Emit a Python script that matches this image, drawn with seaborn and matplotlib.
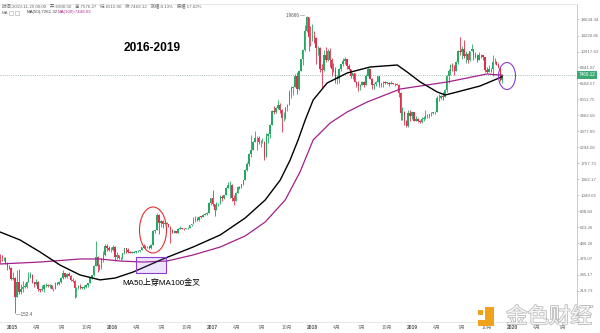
import numpy as np
import pandas as pd
import matplotlib
matplotlib.use('Agg')
import matplotlib.pyplot as plt
import matplotlib.ticker as mticker
import matplotlib.patheffects as pe
from matplotlib.patches import Ellipse, Rectangle
import seaborn as sns

# ---------------- data (weekly BTC/USD candles) ----------------
first_open = 388
close_2014 = [376, 375, 375, 348, 330, 318, 265]
high_2014 = [400, 395, 385, 380, 350, 335, 322]
low_2014 = [345, 360, 360, 340, 310, 312, 262]

close_2015 = [270, 200, 255, 215, 225, 235, 235, 255, 275, 285, 255, 245, 255, 225, 222, 225, 240, 240, 237, 240,
              225, 225, 248, 245, 255, 270, 292, 275, 290, 280, 262, 260, 230, 230, 238, 232, 232, 233, 240, 248,
              270, 283, 330, 385, 330, 325, 370, 395, 455, 440, 425, 430]
high_2015 = [300, 275, 310, 315, 245, 260, 250, 260, 300, 300, 290, 255, 265, 260, 228, 240, 245, 248, 245, 245,
             242, 230, 252, 255, 258, 275, 310, 295, 292, 300, 285, 270, 262, 235, 240, 245, 235, 240, 245, 250,
             275, 285, 335, 500, 390, 340, 375, 420, 470, 470, 460, 450]
low_2015 = [264, 152.4, 200, 210, 210, 215, 230, 230, 255, 270, 250, 235, 240, 220, 215, 218, 215, 233, 235, 230,
            225, 220, 225, 240, 240, 250, 265, 270, 270, 280, 260, 255, 195, 200, 225, 225, 225, 225, 232, 235,
            248, 265, 280, 330, 300, 310, 315, 355, 390, 420, 420, 415]

close_2016 = [450, 385, 395, 375, 375, 405, 440, 430, 415, 410, 410, 415, 420, 420, 428, 450, 445, 458, 455, 440,
              465, 580, 590, 760, 670, 690, 655, 665, 655, 625, 590, 570, 580, 570, 605, 608, 605, 602, 610, 617,
              640, 655, 700, 705, 700, 740, 735, 765, 775, 790, 925, 998]
high_2016 = [465, 455, 415, 398, 385, 410, 445, 445, 440, 420, 420, 420, 422, 425, 430, 450, 470, 465, 460, 458,
             470, 590, 595, 780, 770, 705, 700, 680, 680, 660, 630, 600, 590, 585, 610, 630, 612, 610, 615, 620,
             645, 660, 740, 745, 740, 750, 745, 775, 780, 800, 935, 1000]
low_2016 = [420, 360, 370, 370, 365, 370, 400, 405, 410, 405, 405, 408, 410, 415, 415, 425, 440, 440, 445, 435,
            435, 465, 570, 590, 560, 620, 610, 650, 650, 620, 480, 565, 565, 565, 565, 600, 600, 590, 600, 605,
            610, 630, 650, 680, 690, 690, 720, 730, 755, 765, 790, 890]

close_2017 = [905, 820, 920, 920, 1015, 995, 1050, 1185, 1230, 1230, 1000, 960, 1090, 1200, 1180, 1250, 1340, 1590,
              1750, 2050, 2200, 2520, 2650, 2650, 2480, 2500, 2520, 1950, 2760, 2860, 3300, 4150, 4080, 4350, 4550,
              4200, 3700, 3700, 4400, 4600, 5700, 6000, 6150, 7400, 5900, 8000, 9650, 11300, 15300, 19100, 13900, 13800]
high_2017 = [1150, 910, 935, 930, 1050, 1060, 1060, 1200, 1300, 1330, 1250, 1060, 1100, 1210, 1210, 1260, 1350, 1600,
             1800, 2100, 2800, 2550, 3000, 2750, 2770, 2600, 2650, 2550, 2900, 2900, 3350, 4200, 4500, 4400, 4950,
             4700, 4300, 4100, 4450, 4620, 5850, 6200, 6200, 7600, 7900, 8100, 9700, 11400, 17000, 19666, 19200, 16500]
low_2017 = [880, 750, 820, 885, 915, 950, 990, 1050, 1180, 1000, 950, 890, 950, 1080, 1160, 1180, 1240, 1340,
            1550, 1700, 1950, 2200, 2500, 2200, 2400, 2300, 2450, 1850, 1950, 2450, 2650, 3300, 3950, 3990, 4300,
            4000, 2950, 3500, 3650, 4150, 4600, 5100, 5400, 6100, 5500, 5850, 7950, 8800, 11000, 15000, 11000, 12000]

close_2018 = [14200, 13600, 11600, 11700, 8200, 8100, 10400, 9600, 11000, 9550, 8200, 8150, 7000, 7000, 8300, 8900,
              9400, 9650, 8700, 8200, 7350, 7700, 6700, 6450, 6200, 6380, 6700, 6350, 7400, 8200, 7050, 6300, 6400,
              6700, 7300, 6300, 6500, 6700, 6600, 6600, 6450, 6500, 6450, 6400, 6350, 5600, 4000, 4100, 3500, 3250,
              4000, 3850]
high_2018 = [17200, 15400, 14000, 12000, 11800, 9000, 11300, 11800, 11500, 11700, 9900, 9100, 8500, 7500, 8400, 9000,
             9800, 9950, 9700, 8900, 8300, 7750, 7750, 6800, 6800, 6400, 6800, 6750, 7600, 8500, 8250, 7150, 6600,
             6800, 7350, 7400, 6600, 6800, 6800, 6700, 6700, 6800, 6550, 6500, 6550, 6400, 5650, 4400, 4150, 3600,
             4200, 4250]
low_2018 = [13000, 12500, 9000, 10300, 7900, 6000, 8000, 9300, 9400, 8500, 7300, 7800, 6500, 6450, 6600, 8000,
            8700, 9000, 8300, 8100, 7100, 7050, 6650, 6100, 5750, 5800, 6300, 6100, 6300, 7400, 6950, 5900, 5900,
            6250, 6650, 6100, 6150, 6100, 6400, 6450, 6200, 6400, 6400, 6250, 6300, 5200, 3600, 3600, 3300, 3200,
            3200, 3550]

close_2019 = [4050, 3550, 3650, 3550, 3450, 3650, 3700, 3850, 3850, 3950, 4000, 4050, 4100, 5100, 5100, 5300, 5200,
              5850, 7300, 8000, 8750, 8600, 7950, 9300, 11000, 10800, 11500, 10200, 10600, 9500, 11000, 11400, 10300,
              10150, 9600, 10400, 10300, 10000, 8050, 7850, 8300, 8200, 9200, 9300, 8800, 8500, 6900, 7469.12]
high_2019 = [4100, 4100, 3800, 3700, 3600, 3750, 3800, 4200, 3950, 3950, 4050, 4100, 4150, 5300, 5450, 5400, 5650,
             5900, 7500, 8300, 8900, 9100, 8800, 9400, 11200, 13800, 12000, 13200, 11100, 10700, 11100, 12300, 11500,
             10950, 10600, 10900, 10500, 10300, 10050, 8500, 8800, 8400, 10400, 9800, 9400, 9100, 8500, 7576.27]
low_2019 = [3650, 3500, 3550, 3450, 3400, 3400, 3550, 3650, 3700, 3700, 3850, 3950, 3950, 4100, 4900, 5050, 5000,
            5200, 5700, 6600, 7500, 8000, 7450, 7950, 8950, 10300, 9700, 9900, 9100, 9100, 9400, 11000, 9500,
            9800, 9300, 9600, 9900, 9600, 7800, 7700, 7800, 7900, 7300, 9000, 8750, 8350, 6800, 6515]

# moving averages
ma50_dates = ['2014-11-18', '2015-01-30', '2015-04-13', '2015-06-25', '2015-09-06', '2015-11-18', '2016-01-12',
              '2016-03-18', '2016-07-05', '2016-10-23', '2017-01-30', '2017-05-01', '2017-07-13', '2017-09-06',
              '2017-10-12', '2017-11-10', '2017-12-06', '2018-01-04', '2018-02-24', '2018-05-08', '2018-07-31',
              '2018-11-07', '2018-12-13', '2019-01-30', '2019-04-02', '2019-05-01', '2019-06-13', '2019-09-05',
              '2019-11-25']
ma50 = [575, 505, 415, 335, 285, 263, 271, 299, 370, 450, 548, 723, 970, 1344, 1863, 2583, 3581, 4964, 6552,
        7715, 8510, 8790, 7843, 6660, 5656, 5386, 5656, 6240, 7261.32]

ma100_dates = ['2014-11-18', '2015-04-13', '2015-09-06', '2015-11-18', '2016-01-30', '2016-04-23', '2016-07-20',
               '2016-10-23', '2017-01-30', '2017-05-01', '2017-07-13', '2017-09-24', '2017-11-17', '2018-01-04',
               '2018-03-07', '2018-05-08', '2018-07-20', '2018-10-12', '2018-11-18', '2019-01-30', '2019-05-08',
               '2019-07-20', '2019-09-30', '2019-11-25']
ma100 = [341, 352, 370, 370, 358, 352, 358, 395, 450, 539, 677, 970, 1532, 2583, 3410, 4081, 4804, 5566, 5940,
         6240, 6660, 7110, 7590, 7448.03]

y_tick_labels = ['18634.34', '14220.85', '10917.63', '8441.87', '6504.57', '5011.75', '3862.58', '2977.09',
                 '2294.06', '1767.73', '1362.17', '1049.65', '808.83', '623.26', '480.26', '370.07', '285.17',
                 '219.73', '169.32']
x_tick_dates = ['2015-01-01', '2015-04-01', '2015-07-01', '2015-10-01', '2016-01-01', '2016-04-01', '2016-07-01',
                '2016-10-01', '2017-01-01', '2017-04-01', '2017-07-01', '2017-10-01', '2018-01-01', '2018-04-01',
                '2018-07-01', '2018-10-01', '2019-01-01', '2019-04-01', '2019-07-01', '2019-10-01', '2020-01-01',
                '2020-04-01', '2020-07-01']
x_tick_labels = ['2015', '4月', '7月', '10月', '2016', '4月', '7月', '10月', '2017', '4月', '7月', '10月',
                 '2018', '4月', '7月', '10月', '2019', '4月', '7月', '10月', '2020', '4月', '7月']

# ---------------- assemble ----------------
closes = np.array(close_2014 + close_2015 + close_2016 + close_2017 + close_2018 + close_2019, dtype=float)
highs = np.array(high_2014 + high_2015 + high_2016 + high_2017 + high_2018 + high_2019, dtype=float)
lows = np.array(low_2014 + low_2015 + low_2016 + low_2017 + low_2018 + low_2019, dtype=float)
opens = np.concatenate([[first_open], closes[:-1]])
dates = pd.date_range('2014-11-17', periods=len(closes), freq='W-MON')

sns.set_theme(style='white')
plt.rcParams['font.family'] = ['Liberation Sans', 'Noto Sans CJK SC', 'DejaVu Sans']
plt.rcParams['axes.unicode_minus'] = False

W, H = 600, 333
fig = plt.figure(figsize=(W / 100, H / 100), dpi=100)
fig.patch.set_facecolor('white')
ax = fig.add_axes([0, (H - 322) / H, 577 / W, (322 - 4) / H])
ax.set_facecolor('white')
ax.set_yscale('log')

up, down = '#26a862', '#df2f4c'
cols = [up if c >= o else down for o, c in zip(opens, closes)]
ax.vlines(dates, lows, highs, colors=cols, lw=0.6, zorder=2)
bottoms = np.minimum(opens, closes)
heights = np.maximum(np.abs(closes - opens), bottoms * 0.008)
ax.bar(dates, heights, bottom=bottoms, width=5.4, color=cols, linewidth=0, zorder=3)

df50 = pd.DataFrame({'date': pd.to_datetime(ma50_dates), 'v': ma50})
df100 = pd.DataFrame({'date': pd.to_datetime(ma100_dates), 'v': ma100})
sns.lineplot(data=df100, x='date', y='v', ax=ax, color='#a3208c', lw=0.9, zorder=4)
sns.lineplot(data=df50, x='date', y='v', ax=ax, color='black', lw=1.0, zorder=5)

ax.axhline(closes[-1], color='#86a898', lw=0.6, ls=(0, (1, 1.6)), zorder=1)

ax.set_xlim(pd.Timestamp('2014-11-18'), pd.Timestamp('2020-08-24'))
ax.set_ylim(132.2, 23808)
ax.set_xlabel('')
ax.set_ylabel('')

# y axis on the right
ax.yaxis.tick_right()
ax.yaxis.set_minor_locator(mticker.NullLocator())
ax.yaxis.set_minor_formatter(mticker.NullFormatter())
ax.set_yticks([float(v) for v in y_tick_labels])
ax.set_yticklabels(y_tick_labels)
ax.tick_params(axis='y', which='major', length=1.5, width=0.5, color='#b5b5b5', labelsize=3.2,
               labelcolor='#707070', pad=0.8, right=True, left=False)

ax.set_xticks(pd.to_datetime(x_tick_dates))
ax.set_xticklabels(x_tick_labels)
ax.tick_params(axis='x', length=0, labelsize=3.6, labelcolor='#707070', pad=2.2)
for t, lab in zip(ax.get_xticklabels(), x_tick_labels):
    if not lab.endswith('月'):
        t.set_fontweight('bold')
        t.set_color('#555555')

ax.spines['left'].set_visible(False)
ax.spines['right'].set_color('#c4c4c4')
ax.spines['right'].set_linewidth(0.6)
ax.spines['top'].set_color('#e4e4e4')
ax.spines['top'].set_linewidth(0.6)
ax.spines['bottom'].set_color('#e4e4e4')
ax.spines['bottom'].set_linewidth(0.6)
ax.grid(False)

# current price label
ax.annotate(f'{closes[-1]:.2f}', xy=(1, closes[-1]), xycoords=('axes fraction', 'data'),
            xytext=(1.0, 0), textcoords='offset points', ha='left', va='center', fontsize=3.3,
            color='white', bbox=dict(boxstyle='square,pad=0.35', fc='#3aaa72', ec='none'),
            annotation_clip=False, zorder=10)

# high / low labels
i_hi = int(np.argmax(highs))
i_lo = int(np.argmin(lows))
ax.annotate(f'{highs[i_hi]:.0f} —', xy=(dates[i_hi], highs[i_hi]), xytext=(-1.5, 0), textcoords='offset points',
            ha='right', va='center', fontsize=3.3, color='#555555')
ax.annotate(f'—{lows[i_lo]:g}', xy=(dates[i_lo], lows[i_lo]), xytext=(0.5, -1), textcoords='offset points',
            ha='left', va='center', fontsize=3.3, color='#555555')

# ---------------- annotations (figure pixels) ----------------
def fx(px):
    return px / W


def fy(py):
    return 1 - py / H


fig.text(fx(152), fy(48), '2016-2019', ha='center', va='center', fontsize=8.6, fontweight='bold',
         family=['Liberation Sans', 'DejaVu Sans'], color='black')
fig.text(fx(161), fy(283), 'MA50上穿MA100金叉', ha='center', va='center', fontsize=5.8,
         family=['Liberation Sans', 'Noto Sans CJK SC'], color='black')

fig.add_artist(Ellipse((fx(153), fy(230)), 27 / W, 46 / H, transform=fig.transFigure, fill=False,
                       ec='#e0312f', lw=0.8))
fig.add_artist(Rectangle((fx(136), fy(273)), 30 / W, 16 / H, transform=fig.transFigure,
                         fc=(0.62, 0.45, 0.95, 0.18), ec='#8a3fd1', lw=0.8))
fig.add_artist(Ellipse((fx(507), fy(76)), 17 / W, 27 / H, transform=fig.transFigure, fill=False,
                       ec='#8a3fd1', lw=0.8))

# header lines
hdr_font = ['Liberation Sans', 'Noto Sans CJK SC']
fig.text(fx(2), fy(6), '时间:2019-11-25 00:00   开:6900.50   高:7576.27   低:6515.00   收:7469.12   涨幅:8.13%   振幅:17.62%',
         ha='left', va='center', fontsize=3.2, color='#666666', family=hdr_font)
fig.text(fx(2), fy(12.5), 'MA', ha='left', va='center', fontsize=3.2, color='#666666', family=hdr_font)
fig.add_artist(Rectangle((fx(9), fy(14.5)), 4 / W, 4 / H, transform=fig.transFigure, fill=False, ec='#aaaaaa', lw=0.4))
fig.add_artist(Rectangle((fx(15), fy(14.5)), 4 / W, 4 / H, transform=fig.transFigure, fill=False, ec='#aaaaaa', lw=0.4))
fig.text(fx(27), fy(12.5), f'MA(50):{ma50[-1]:.2f}', ha='left', va='center', fontsize=3.2, color='#444444',
         family=hdr_font)
fig.text(fx(58), fy(12.5), f'MA(100):{ma100[-1]:.2f}', ha='left', va='center', fontsize=3.2, color='#b0308f',
         family=hdr_font)

# watermark
orange = '#f0a21c'
fig.add_artist(Rectangle((fx(485), fy(326)), 9 / W, 19 / H, transform=fig.transFigure, fc=orange, ec='none'))
fig.add_artist(Rectangle((fx(478), fy(326)), 16 / W, 6 / H, transform=fig.transFigure, fc=orange, ec='none'))
fig.add_artist(Rectangle((fx(478), fy(315)), 5 / W, 5 / H, transform=fig.transFigure, fc=orange, ec='none'))
fig.text(fx(549), fy(317), '金色财经', ha='center', va='center', fontsize=15.5, color='#f6f6f6',
         family=['Noto Sans CJK SC'],
         path_effects=[pe.withStroke(linewidth=1.1, foreground='#b9b9b9')])

fig.savefig('out.png', dpi=100)
